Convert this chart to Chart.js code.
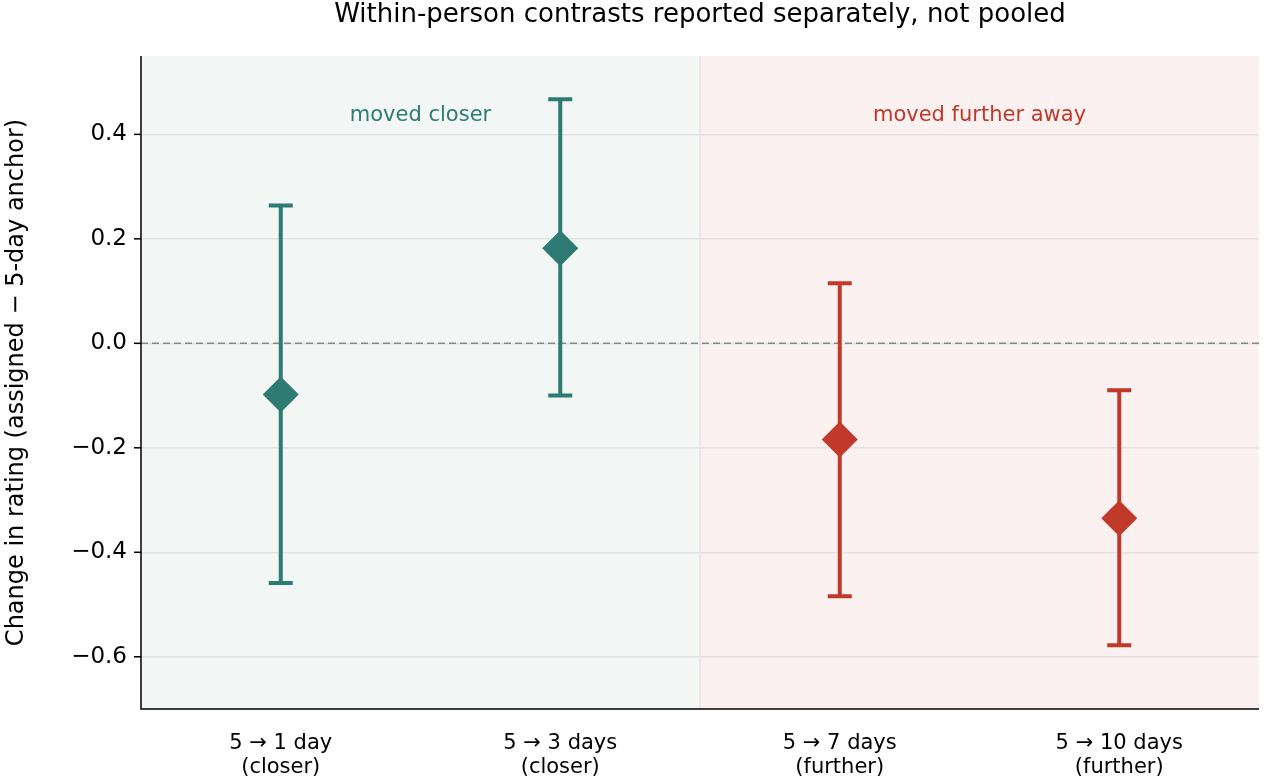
<!DOCTYPE html>
<html><head><meta charset="utf-8">
<script src="https://cdn.jsdelivr.net/npm/chart.js@4.4.1/dist/chart.umd.min.js"></script>
<style>html,body{margin:0;padding:0;background:#fff}#w{width:1277px;height:781px}</style>
</head><body><div id="w"><canvas id="c"></canvas></div>
<script>
const categories = [["5 → 1 day","(closer)"],["5 → 3 days","(closer)"],["5 → 7 days","(further)"],["5 → 10 days","(further)"]];
const estimates = [-0.098, 0.182, -0.184, -0.335];
const lowerCI = [-0.459, -0.100, -0.484, -0.578];
const upperCI = [0.264, 0.467, 0.115, -0.090];
const groups = ["closer","closer","further","further"];
const yTicks = [-0.6,-0.4,-0.2,0.0,0.2,0.4];
const TEAL = "#2e7b73", RED = "#c0392b";
const colorOf = g => g === "closer" ? TEAL : RED;
const F = "DejaVu Sans";

const bgPlugin = {
  id: "bg",
  beforeDraw(ch) {
    const {ctx, chartArea: a, scales: {x, y}} = ch;
    const mid = (x.getPixelForValue(1) + x.getPixelForValue(2)) / 2;
    ctx.save();
    ctx.fillStyle = "#f2f6f5"; ctx.fillRect(a.left, a.top, mid - a.left, a.bottom - a.top);
    ctx.fillStyle = "#faf1f0"; ctx.fillRect(mid, a.top, a.right - mid, a.bottom - a.top);
    ctx.strokeStyle = "#e6d8da"; ctx.lineWidth = 1;
    ctx.beginPath(); ctx.moveTo(mid, a.top); ctx.lineTo(mid, a.bottom); ctx.stroke();
    ctx.restore();
  },
  beforeDatasetsDraw(ch) {
    const {ctx, chartArea: a, scales: {x, y}} = ch;
    ctx.save();
    ctx.strokeStyle = "#888"; ctx.lineWidth = 1.5; ctx.setLineDash([7, 4]);
    const y0 = y.getPixelForValue(0);
    ctx.beginPath(); ctx.moveTo(a.left, y0); ctx.lineTo(a.right, y0); ctx.stroke();
    ctx.setLineDash([]);
    ctx.lineWidth = 4;
    estimates.forEach((v, i) => {
      const px = x.getPixelForValue(i), yl = y.getPixelForValue(lowerCI[i]), yu = y.getPixelForValue(upperCI[i]);
      ctx.strokeStyle = colorOf(groups[i]);
      ctx.beginPath();
      ctx.moveTo(px, yl); ctx.lineTo(px, yu);
      ctx.moveTo(px - 12, yl); ctx.lineTo(px + 12, yl);
      ctx.moveTo(px - 12, yu); ctx.lineTo(px + 12, yu);
      ctx.stroke();
    });
    const mid = (x.getPixelForValue(1) + x.getPixelForValue(2)) / 2;
    ctx.font = "21px '" + F + "'"; ctx.textAlign = "center"; ctx.textBaseline = "middle";
    ctx.fillStyle = TEAL; ctx.fillText("moved closer", (a.left + mid) / 2, 116);
    ctx.fillStyle = RED; ctx.fillText("moved further away", (mid + a.right) / 2, 116);
    ctx.restore();
  },
  afterDraw(ch) {
    const {ctx, chartArea: a, scales: {y}} = ch;
    ctx.save();
    ctx.strokeStyle = "#000"; ctx.lineWidth = 1.5;
    ctx.beginPath(); ctx.moveTo(a.left, a.top); ctx.lineTo(a.left, a.bottom); ctx.lineTo(a.right, a.bottom); ctx.stroke();
    yTicks.forEach(v => { const py = y.getPixelForValue(v); ctx.beginPath(); ctx.moveTo(a.left - 7, py); ctx.lineTo(a.left, py); ctx.stroke(); });
    ctx.font = "26px '" + F + "'"; ctx.fillStyle = "#000"; ctx.textAlign = "center"; ctx.textBaseline = "middle";
    ctx.fillText("Within-person contrasts reported separately, not pooled", (a.left + a.right) / 2, 15);
    ctx.restore();
  }
};

new Chart(document.getElementById("c"), {
  type: "line",
  data: {
    labels: categories,
    datasets: [{
      data: estimates, showLine: false,
      pointStyle: "rectRot", pointRadius: 18, pointHoverRadius: 18,
      pointBackgroundColor: groups.map(colorOf), pointBorderColor: groups.map(colorOf), pointBorderWidth: 0
    }]
  },
  options: {
    responsive: true, maintainAspectRatio: false, animation: false,
    layout: { padding: { top: 56, right: 15, left: 0, bottom: 0 } },
    plugins: { legend: { display: false }, tooltip: { enabled: false } },
    scales: {
      x: {
        type: "category", offset: true,
        grid: { display: false },
        border: { display: false },
        ticks: { color: "#000", font: { family: F, size: 21, lineHeight: 1.15 }, padding: 14 },
        afterFit(s) { s.height = 72; }
      },
      y: {
        min: -0.7, max: 0.55,
        afterBuildTicks(s) { s.ticks = yTicks.map(v => ({ value: v })); },
        grid: { color: "#e3e3e3", lineWidth: 1.5, drawTicks: false },
        border: { display: false },
        ticks: { color: "#000", font: { family: F, size: 23 }, padding: 14,
          callback: v => (v < 0 ? "\u2212" : "") + Math.abs(v).toFixed(1) },
        title: { display: true, text: "Change in rating (assigned \u2212 5-day anchor)", color: "#000", font: { family: F, size: 24 }, padding: 2 },
        afterFit(s) { s.width = 141; }
      }
    }
  },
  plugins: [bgPlugin]
});
</script></body></html>
